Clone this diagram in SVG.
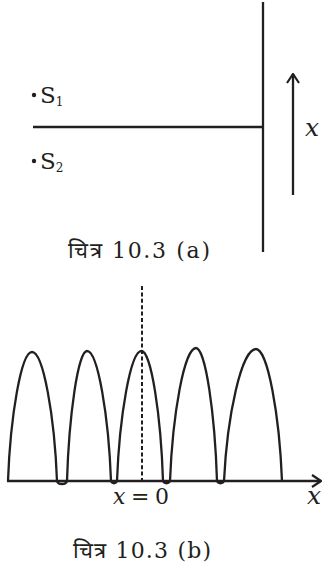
<svg xmlns="http://www.w3.org/2000/svg" width="322" height="566" viewBox="0 0 322 566">
<style>
.ln{stroke:#231f20;stroke-width:2.3;fill:none;stroke-linecap:butt}
.t{font-family:"DejaVu Serif","Liberation Serif",serif;fill:#231f20}
.i{font-style:italic}
</style>
<defs>
<marker id="ah" viewBox="0 0 12 14" refX="10.5" refY="7" markerWidth="12" markerHeight="14" markerUnits="userSpaceOnUse" orient="auto">
<path d="M1.5,1 L10.5,7 L1.5,13" fill="none" stroke="#231f20" stroke-width="2.2"/>
</marker>
</defs>
<g id="panel-a">
<g id="screen"><line class="ln" x1="263" y1="2" x2="263" y2="252"/></g>
<g id="axis-line"><line class="ln" x1="33" y1="127" x2="263" y2="127"/></g>
<g id="s1"><circle cx="34" cy="95" r="2.2" fill="#231f20"/><text class="t" x="40" y="103" font-size="23">S<tspan font-size="12" dy="3">1</tspan></text></g>
<g id="s2"><circle cx="34" cy="161" r="2.2" fill="#231f20"/><text class="t" x="40" y="169" font-size="23">S<tspan font-size="12" dy="3">2</tspan></text></g>
<g id="x-label-a"><text class="t i" x="305" y="136" font-size="25">x</text></g>
<text class="t" x="68" y="258" font-size="22" textLength="142" lengthAdjust="spacing">चित्र 10.3 (a)</text>
</g>
<g id="connectors">
<line class="ln" stroke-width="2" x1="293" y1="195" x2="293" y2="74" marker-end="url(#ah)"/>
<line class="ln" x1="7" y1="481" x2="321" y2="481" marker-end="url(#ah)"/>
</g>
<g id="panel-b">
<line x1="142" y1="286" x2="142" y2="481" stroke="#231f20" stroke-width="2" stroke-dasharray="4,2.4"/>
<path class="ln" d="M8,481 C10.4,416 21.2,352 32,352 C43.25,352 54.5,416 57,481 C58,485 66,485 67,481 C69,416 78,351 87,351 C97.8,351 108.6,416 111,481 C112,484 116,484 117,481 C119.5,416 130.5,351 141.5,351 C151.2,351 160.9,416 163,481 C164,484 169,484 170,481 C172.6,414 184.3,348 196,348 C205.5,348 214.9,414 217,481 C218,484 223,484 224,481 C227.2,415 241.6,349 256,349 C267.7,349 279.4,415 282,481"/>
<text class="t" x="113" y="504" font-size="22" textLength="56" lengthAdjust="spacing"><tspan class="i">x</tspan> = 0</text>
<text class="t i" x="307" y="504" font-size="25">x</text>
<text class="t" x="73" y="558" font-size="22" textLength="138" lengthAdjust="spacing">चित्र 10.3 (b)</text>
</g>
</svg>
